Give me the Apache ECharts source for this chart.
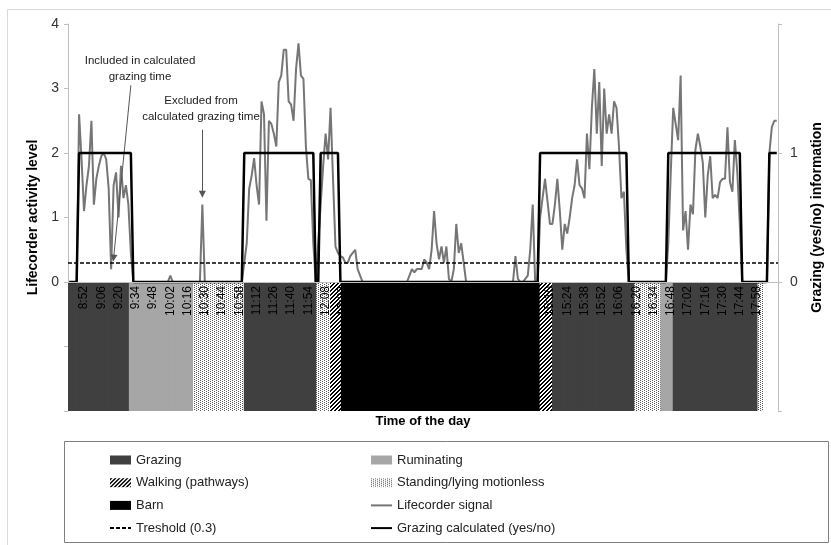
<!DOCTYPE html>
<html>
<head>
<meta charset="utf-8">
<title>Lifecorder signal and grazing</title>
<script src="https://cdn.jsdelivr.net/npm/echarts@6/dist/echarts.min.js"></script>
<style>
  html, body { margin: 0; padding: 0; background: #fff; }
  #chart { width: 831px; height: 545px; }
</style>
</head>
<body>
<div id="chart"></div>
<script>
// one category every 2 minutes (lifecorder epoch)
const startTime = '8:40';
const stepMinutes = 2;
const nPoints = 288;

const tickLabels = ['8:52', '9:06', '9:20', '9:34', '9:48', '10:02', '10:16', '10:30', '10:44', '10:58',
  '11:12', '11:26', '11:40', '11:54', '12:08', '12:22', '12:36', '12:50', '13:04', '13:18',
  '13:32', '13:46', '14:00', '14:14', '14:28', '14:42', '14:56', '15:10', '15:24', '15:38',
  '15:52', '16:06', '16:20', '16:34', '16:48', '17:02', '17:16', '17:30', '17:44', '17:58'];

// lifecorder activity level
const signal = [
  0, 0, 0, 0, 2.6, 1.9, 1.1, 1.5, 1.8, 2.5,
  1.2, 1.6, 1.8, 1.95, 2.0, 1.9, 1.45, 0.2, 1.5, 1.7,
  1.0, 1.8, 1.3, 1.5, 1.2, 0.45, 0, 0, 0, 0,
  0, 0, 0, 0, 0, 0, 0, 0, 0, 0,
  0, 0.1, 0, 0, 0, 0, 0, 0, 0, 0,
  0, 0, 0, 0, 1.2, 0, 0, 0, 0, 0,
  0, 0, 0, 0, 0, 0, 0, 0, 0, 0,
  0, 0.3, 0.6, 1.45, 1.65, 1.92, 1.5, 1.2, 2.8, 2.6,
  0.95, 2.5, 2.45, 2.3, 2.1, 3.1, 3.2, 3.6, 3.6, 2.8,
  2.75, 2.5, 3.3, 3.7, 3.2, 3.15, 2.1, 1.6, 1.58, 0.6,
  0, 0.6, 1.2, 1.8, 2.3, 1.9, 2.7, 1.6, 0.55, 0.45,
  0.4, 0.38, 0.3, 0.3, 0.4, 0.45, 0.5, 0.2, 0.1, 0,
  0, 0, 0, 0, 0, 0, 0, 0, 0, 0,
  0, 0, 0, 0, 0, 0, 0, 0, 0.1, 0.2,
  0.15, 0.2, 0.2, 0.2, 0.35, 0.3, 0.2, 0.5, 1.1, 0.6,
  0.35, 0.55, 0.3, 0.55, 0.05, 0, 0.2, 0.9, 0.45, 0.6,
  0.3, 0, 0, 0, 0, 0, 0, 0, 0, 0,
  0, 0, 0, 0, 0, 0, 0, 0, 0, 0,
  0, 0.4, 0.05, 0, 0, 0.05, 0.1, 0.5, 1.2, 0,
  0, 1.0, 1.3, 1.6, 1.25, 0.9, 0.9, 1.2, 1.6, 1.1,
  0.5, 0.9, 0.75, 1.0, 1.3, 1.5, 1.9, 1.5, 1.45, 1.3,
  2.3, 1.75, 2.7, 3.3, 2.3, 3.1, 1.8, 3.0, 2.3, 2.6,
  2.3, 2.8, 2.7, 2.1, 1.3, 1.4, 0.5, 0, 0, 0,
  0, 0, 0, 0, 0, 0, 0, 0, 0, 0,
  0, 0, 0, 0.6, 1.7, 2.7, 2.45, 2.2, 3.2, 0.8,
  1.1, 0.5, 1.2, 1.05, 2.05, 2.3, 2.1, 1.85, 1.0, 1.65,
  1.95, 1.3, 1.35, 1.3, 1.55, 1.6, 1.6, 2.4, 1.55, 1.4,
  2.2, 1.7, 0.9, 0, 0, 0, 0, 0, 0, 0,
  0, 0, 0, 0, 2.0, 2.4, 2.5, 2.5
];

// grazing calculated (1 = yes, 0 = no)
const grazingCalc = [
  0, 0, 0, 0, 1, 1, 1, 1, 1, 1,
  1, 1, 1, 1, 1, 1, 1, 1, 1, 1,
  1, 1, 1, 1, 1, 1, 0, 0, 0, 0,
  0, 0, 0, 0, 0, 0, 0, 0, 0, 0,
  0, 0, 0, 0, 0, 0, 0, 0, 0, 0,
  0, 0, 0, 0, 0, 0, 0, 0, 0, 0,
  0, 0, 0, 0, 0, 0, 0, 0, 0, 0,
  0, 1, 1, 1, 1, 1, 1, 1, 1, 1,
  1, 1, 1, 1, 1, 1, 1, 1, 1, 1,
  1, 1, 1, 1, 1, 1, 1, 1, 1, 1,
  0, 0, 1, 1, 1, 1, 1, 1, 1, 1,
  0, 0, 0, 0, 0, 0, 0, 0, 0, 0,
  0, 0, 0, 0, 0, 0, 0, 0, 0, 0,
  0, 0, 0, 0, 0, 0, 0, 0, 0, 0,
  0, 0, 0, 0, 0, 0, 0, 0, 0, 0,
  0, 0, 0, 0, 0, 0, 0, 0, 0, 0,
  0, 0, 0, 0, 0, 0, 0, 0, 0, 0,
  0, 0, 0, 0, 0, 0, 0, 0, 0, 0,
  0, 0, 0, 0, 0, 0, 0, 0, 0, 0,
  0, 1, 1, 1, 1, 1, 1, 1, 1, 1,
  1, 1, 1, 1, 1, 1, 1, 1, 1, 1,
  1, 1, 1, 1, 1, 1, 1, 1, 1, 1,
  1, 1, 1, 1, 1, 1, 1, 0, 0, 0,
  0, 0, 0, 0, 0, 0, 0, 0, 0, 0,
  0, 0, 0, 1, 1, 1, 1, 1, 1, 1,
  1, 1, 1, 1, 1, 1, 1, 1, 1, 1,
  1, 1, 1, 1, 1, 1, 1, 1, 1, 1,
  1, 1, 1, 0, 0, 0, 0, 0, 0, 0,
  0, 0, 0, 0, 1, 1, 1, 1
];

const threshold = 0.3;

// observed behaviour, from (inclusive) to (exclusive)
const bandType = ['Grazing', 'Ruminating', 'Standing/lying motionless', 'Grazing',
  'Standing/lying motionless', 'Walking (pathways)', 'Barn', 'Walking (pathways)', 'Grazing',
  'Standing/lying motionless', 'Ruminating', 'Grazing', 'Standing/lying motionless'];
const bandFrom = ['8:40', '9:30', '10:22', '11:02', '12:02', '12:12', '12:22', '15:02', '15:12',
  '16:20', '16:40', '16:50', '18:00'];
const bandTo = ['9:30', '10:22', '11:02', '12:02', '12:12', '12:22', '15:02', '15:12', '16:20',
  '16:40', '16:50', '18:00', '18:04'];
const bandDepth = -2;

const behaviours = ['Grazing', 'Ruminating', 'Walking (pathways)', 'Standing/lying motionless', 'Barn'];

const FONT = "'Liberation Sans', Arial, sans-serif";

function toMin(t) {
  const p = t.split(':');
  return +p[0] * 60 + +p[1];
}
function fmt(m) {
  const h = Math.floor(m / 60), mm = m % 60;
  return h + ':' + (mm < 10 ? '0' : '') + mm;
}

const categories = [];
for (let i = 0; i < nPoints; i++) {
  categories.push(fmt(toMin(startTime) + i * stepMinutes));
}

function bandData(type) {
  return categories.map(function (c) {
    const m = toMin(c);
    for (let k = 0; k < bandType.length; k++) {
      if (bandType[k] === type && m >= toMin(bandFrom[k]) && m < toMin(bandTo[k])) {
        return bandDepth;
      }
    }
    return '-';
  });
}

// small tiled fills for the hatched / dotted bands
function makePattern(size, ink, isInk) {
  const c = document.createElement('canvas');
  c.width = size; c.height = size;
  const ctx = c.getContext('2d');
  ctx.fillStyle = '#fff';
  ctx.fillRect(0, 0, size, size);
  ctx.fillStyle = ink;
  for (let x = 0; x < size; x++) {
    for (let y = 0; y < size; y++) {
      if (isInk(x, y)) ctx.fillRect(x, y, 1, 1);
    }
  }
  return { image: c, repeat: 'repeat' };
}

const walkFill = makePattern(4, '#000', function (x, y) { return (x + y) % 4 < 2; });
const standFill = makePattern(4, '#555', function (x, y) {
  return (x === 0 && y % 2 === 0) || (x === 2 && y % 2 === 1);
});

const bandColors = {
  'Grazing': '#404040',
  'Ruminating': '#a6a6a6',
  'Walking (pathways)': walkFill,
  'Standing/lying motionless': standFill,
  'Barn': '#000000'
};

const series = behaviours.map(function (name) {
  return {
    name: name,
    type: 'bar',
    data: bandData(name),
    barWidth: 4,
    barGap: '-100%',
    itemStyle: { color: bandColors[name] },
    z: 1
  };
});

series.push({
  name: 'Treshold (0.3)',
  type: 'line',
  data: [],
  symbol: 'none',
  lineStyle: { color: '#000', width: 1.5, type: [4, 2] },
  itemStyle: { color: '#000' },
  markLine: {
    silent: true,
    symbol: 'none',
    label: { show: false },
    lineStyle: { color: '#000', width: 1.5, type: [4, 2] },
    data: [{ yAxis: threshold }]
  },
  z: 3
});

series.push({
  name: 'Lifecorder signal',
  type: 'line',
  data: signal,
  symbol: 'none',
  lineStyle: { color: '#767676', width: 2 },
  itemStyle: { color: '#767676' },
  markLine: {
    silent: true,
    symbol: ['none', 'triangle'],
    symbolSize: 7,
    label: { show: false },
    lineStyle: { color: '#555', width: 1, type: 'solid' },
    data: [
      [{ coord: [25, 3.05] }, { coord: [18, 0.37], itemStyle: { color: '#000' } }],
      [{ coord: [54, 2.36] }, { coord: [54, 1.36], itemStyle: { color: '#000' } }]
    ]
  },
  z: 4
});

series.push({
  name: 'Grazing calculated (yes/no)',
  type: 'line',
  yAxisIndex: 1,
  data: grazingCalc,
  symbol: 'none',
  lineStyle: { color: '#000', width: 2.5 },
  itemStyle: { color: '#000' },
  z: 5
});

const legendText = { fontFamily: FONT, fontSize: 13, color: '#222', lineHeight: 16 };
const noDot = { opacity: 0 };

const option = {
  animation: false,
  backgroundColor: '#fff',
  grid: { left: 68, right: 53, top: 24, bottom: 134, containLabel: false, outerBoundsMode: 'none' },
  legend: [
    {
      orient: 'vertical', left: 104, top: 447, itemWidth: 21, itemHeight: 9, itemGap: 6.7,
      textStyle: legendText, selectedMode: false,
      data: [{ name: 'Grazing', icon: 'rect' }, { name: 'Walking (pathways)', icon: 'rect' },
        { name: 'Barn', icon: 'rect' }, { name: 'Treshold (0.3)', itemStyle: noDot }]
    },
    {
      orient: 'vertical', left: 365, top: 447, itemWidth: 21, itemHeight: 9, itemGap: 6.7,
      textStyle: legendText, selectedMode: false,
      data: [{ name: 'Ruminating', icon: 'rect' }, { name: 'Standing/lying motionless', icon: 'rect' },
        { name: 'Lifecorder signal', itemStyle: noDot },
        { name: 'Grazing calculated (yes/no)', itemStyle: noDot }]
    }
  ],
  xAxis: {
    type: 'category',
    data: categories,
    boundaryGap: true,
    position: 'bottom',
    // the time axis sits on the zero of the left axis (grid bottom is -2)
    offset: -129,
    z: 10,
    axisLine: { onZero: false, lineStyle: { color: '#bfbfbf' } },
    axisTick: { show: false },
    axisLabel: {
      rotate: 90,
      margin: 4,
      fontFamily: FONT,
      fontSize: 12,
      color: '#000',
      interval: function (idx, value) { return tickLabels.indexOf(value) >= 0; }
    },
    name: 'Time of the day',
    nameLocation: 'middle',
    nameGap: 133,
    nameTextStyle: { fontFamily: FONT, fontSize: 13, fontWeight: 'bold', color: '#000' }
  },
  yAxis: [
    {
      type: 'value',
      position: 'left',
      min: -2, max: 4, interval: 1,
      axisLine: { show: true, lineStyle: { color: '#bfbfbf' } },
      axisTick: { show: true, length: 4, lineStyle: { color: '#bfbfbf' } },
      splitLine: { show: false },
      axisLabel: {
        margin: 9, fontFamily: FONT, fontSize: 14, color: '#333',
        formatter: function (v) { return v >= 0 ? v : ''; }
      },
      name: 'Lifecorder activity level',
      nameLocation: 'middle',
      nameRotate: 90,
      nameGap: 27,
      nameTextStyle: { fontFamily: FONT, fontSize: 14, fontWeight: 'bold', color: '#000' }
    },
    {
      type: 'value',
      position: 'right',
      min: -1, max: 2, interval: 1,
      axisLine: { show: true, lineStyle: { color: '#bfbfbf' } },
      axisTick: { show: true, length: 4, lineStyle: { color: '#bfbfbf' } },
      splitLine: { show: false },
      axisLabel: {
        margin: 12, fontFamily: FONT, fontSize: 14, color: '#333',
        formatter: function (v) { return (v === 0 || v === 1) ? v : ''; }
      },
      name: 'Grazing (yes/no) information',
      nameLocation: 'middle',
      nameRotate: 90,
      nameGap: 32,
      nameTextStyle: { fontFamily: FONT, fontSize: 14, fontWeight: 'bold', color: '#000' }
    }
  ],
  graphic: [
    {
      type: 'rect', silent: true, z: -1,
      shape: { x: 7.5, y: 9.5, width: 830, height: 540 },
      style: { fill: 'none', stroke: '#d9d9d9', lineWidth: 1 }
    },
    {
      type: 'rect', silent: true,
      shape: { x: 64.5, y: 441.5, width: 764, height: 101 },
      style: { fill: 'none', stroke: '#7f7f7f', lineWidth: 1 }
    },
    {
      type: 'text', silent: true, x: 140, y: 53,
      style: {
        text: 'Included in calculated\ngrazing time', textAlign: 'center',
        font: '11.5px ' + FONT, lineHeight: 16, fill: '#222'
      }
    },
    {
      type: 'text', silent: true, x: 201, y: 93,
      style: {
        text: 'Excluded from\ncalculated grazing time', textAlign: 'center',
        font: '11.5px ' + FONT, lineHeight: 16, fill: '#222'
      }
    }
  ],
  series: series
};

const chart = echarts.init(document.getElementById('chart'));
chart.setOption(option);
</script>
</body>
</html>
